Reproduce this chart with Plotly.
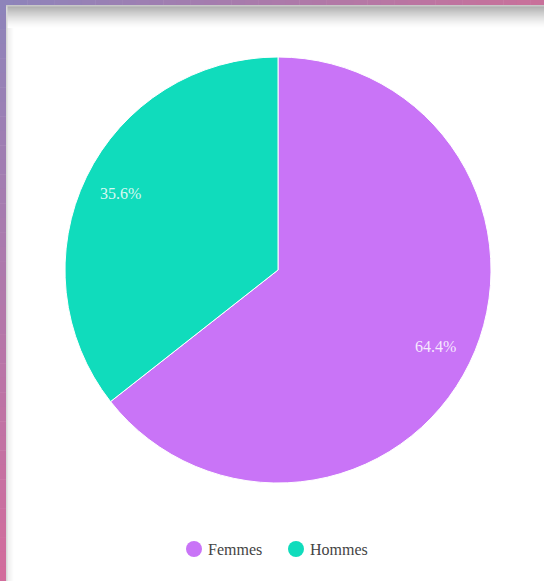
import math
import plotly.graph_objects as go

# Répartition par sexe
categories = ["Femmes", "Hommes"]
percentages = [64.4, 35.6]
slice_colors = ["#c974f7", "#10dcbc"]

W, H = 544, 581


def lerp(c1, c2, t):
    return "rgb({},{},{})".format(*[round(a + (b - a) * t) for a, b in zip(c1, c2)])


shapes = []
purple = (142, 132, 186)
pink = (200, 112, 154)
pink_low = (210, 108, 156)

# Gradient frame behind the card: top band (left -> right)
steps = 40
for i in range(steps):
    x0 = W * i / steps
    x1 = W * (i + 1) / steps + 0.5
    shapes.append(dict(type="rect", xref="paper", yref="paper",
                       x0=x0 / W, x1=min(x1 / W, 1), y0=1 - 6 / H, y1=1,
                       fillcolor=lerp(purple, pink, i / (steps - 1)),
                       line=dict(width=0), layer="below"))
# Left band (top -> bottom)
for i in range(steps):
    y0 = H * i / steps
    y1 = H * (i + 1) / steps + 0.5
    shapes.append(dict(type="rect", xref="paper", yref="paper",
                       x0=0, x1=7 / W, y0=1 - min(y1, H) / H, y1=1 - y0 / H,
                       fillcolor=lerp(purple, pink_low, i / (steps - 1)),
                       line=dict(width=0), layer="below"))

# White card
shapes.append(dict(type="rect", xref="paper", yref="paper",
                   x0=7 / W, x1=1, y0=0, y1=1 - 6 / H,
                   fillcolor="white", line=dict(width=0), layer="below"))
# Card edge line
shapes.append(dict(type="rect", xref="paper", yref="paper",
                   x0=6 / W, x1=7.5 / W, y0=0, y1=1 - 5 / H,
                   fillcolor="#d8d8d8", line=dict(width=0), layer="below"))
shapes.append(dict(type="rect", xref="paper", yref="paper",
                   x0=6 / W, x1=1, y0=1 - 6.5 / H, y1=1 - 5 / H,
                   fillcolor="#c8c8c8", line=dict(width=0), layer="below"))
# Soft inner shadow along the top edge of the card
shadow_rows = 22
for i in range(shadow_rows):
    a = 0.55 * (1 - i / shadow_rows) ** 1.6
    ytop = 6.5 + i
    shapes.append(dict(type="rect", xref="paper", yref="paper",
                       x0=7.5 / W, x1=1, y0=1 - (ytop + 1) / H, y1=1 - ytop / H,
                       fillcolor="rgba(90,90,90,{:.3f})".format(a),
                       line=dict(width=0), layer="below"))
# Soft shadow along the left edge of the card
for i in range(6):
    a = 0.12 * (1 - i / 6)
    shapes.append(dict(type="rect", xref="paper", yref="paper",
                       x0=(7.5 + i) / W, x1=(8.5 + i) / W, y0=0, y1=1 - 28 / H,
                       fillcolor="rgba(120,120,120,{:.3f})".format(a),
                       line=dict(width=0), layer="below"))

cx, cy, r = 278, 270, 213

fig = go.Figure()
fig.add_trace(go.Pie(
    labels=categories,
    values=percentages,
    marker=dict(colors=slice_colors, line=dict(color="white", width=1)),
    sort=False,
    direction="clockwise",
    rotation=0,
    textinfo="none",
    showlegend=False,
    hoverinfo="label+percent",
    domain=dict(x=[(cx - r) / W, (cx + r) / W],
                y=[(H - cy - r) / H, (H - cy + r) / H]),
))

# Percentage labels placed toward the outer part of each slice
annotations = []
total = sum(percentages)
start = 0.0
label_r = 0.82 * r
for name, val in zip(categories, percentages):
    mid = start + val / 2
    ang = math.radians(90 - 360 * mid / total)
    lx = cx + label_r * math.cos(ang)
    ly = cy - label_r * math.sin(ang)
    annotations.append(dict(
        x=lx / W, y=1 - ly / H, xref="paper", yref="paper",
        text="{:.1f}%".format(100 * val / total), showarrow=False,
        xanchor="center", yanchor="middle",
        font=dict(family="Liberation Serif, serif", size=16,
                  color="rgba(255,255,255,0.85)")))
    start += val

# Legend: round swatches followed by category names
legend_x = [194, 296]
legend_y = 549
for name, col, lx in zip(categories, slice_colors, legend_x):
    shapes.append(dict(type="circle", xref="paper", yref="paper",
                       x0=(lx - 8) / W, x1=(lx + 8) / W,
                       y0=1 - (legend_y + 8) / H, y1=1 - (legend_y - 8) / H,
                       fillcolor=col, line=dict(width=0)))
    annotations.append(dict(
        x=(lx + 12) / W, y=1 - legend_y / H, xref="paper", yref="paper",
        text=name, showarrow=False, xanchor="left", yanchor="middle",
        font=dict(family="Liberation Serif, serif", size=16, color="#444444")))

fig.update_layout(
    width=W, height=H,
    margin=dict(l=0, r=0, t=0, b=0),
    paper_bgcolor="white",
    shapes=shapes,
    annotations=annotations,
    showlegend=False,
)

fig.write_html("out.html")
